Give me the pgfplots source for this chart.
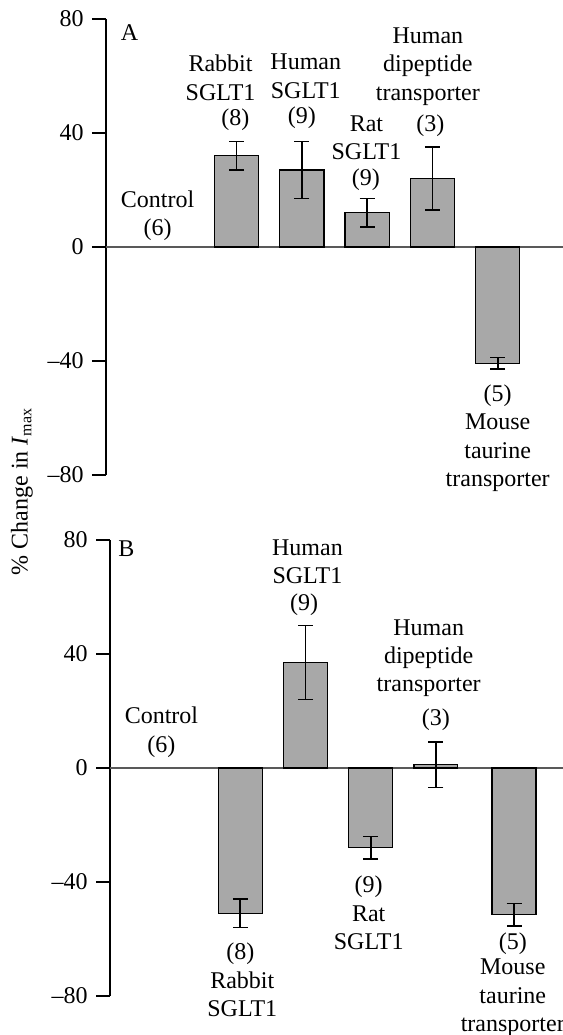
\documentclass[border=0pt]{standalone}
\usepackage{pgfplots}
\pgfplotsset{compat=1.18}
\usepackage{fontspec}
\setmainfont{Liberation Serif}
\definecolor{barfill}{RGB}{168,168,168}
\pgfplotsset{
  panel/.style={
    scale only axis, clip=false,
    width=228.5pt, height=228pt,
    xmin=-1, xmax=6, ymin=-80, ymax=80,
    axis x line=none, axis y line*=left,
    axis line style={line width=1pt,-},
    ytick={-80,-40,0,40,80},
    yticklabels={\textendash80,\textendash40,0,40,80},
    tick align=outside, major tick length=7pt,
    tick style={line width=1pt,black},
    ytick pos=left,
  },
  bars/.style={ybar, bar width=0.675, fill=barfill, draw=black, line width=0.65pt,
    error bars/.cd, y dir=both, y explicit,
    error bar style={line width=0.85pt,black},
    error mark options={rotate=90, mark size=3.75pt, line width=0.85pt, black}},
  zeroline/.style={black!65, line width=0.6pt, no marks, forget plot},
}
\begin{document}
\fontsize{12}{14.2}\selectfont
\begin{tikzpicture}
\useasboundingbox (0,0) rectangle (281.5pt,-517.5pt);
% Panel A
\begin{axis}[panel, at={(53pt,-237.5pt)}, anchor=south west]
\addplot[zeroline] coordinates {(-1,0) (6,0)};
\addplot[bars] table[x=x, y=y, y error=e] {
x y e
1 32 5
2 27 10
3 12 5
4 24 11
5 -40.8 2
};
\node at (axis cs:-0.64,75.3) {A};
\node[align=center] at (axis cs:-0.21,10.9) {Control\\(6)};
\node[align=center] at (axis cs:0.755,59.4) {Rabbit\\SGLT1};
\node at (axis cs:0.98,44.5) {(8)};
\node[align=center] at (axis cs:2.06,59.9) {Human\\SGLT1};
\node at (axis cs:2,45.2) {(9)};
\node[align=center] at (axis cs:2.99,38.4) {Rat\\SGLT1};
\node at (axis cs:2.98,23.5) {(9)};
\node[align=center] at (axis cs:3.93,63.4) {Human\\dipeptide\\transporter};
\node at (axis cs:3.97,42.7) {(3)};
\node at (axis cs:5,-52.3) {(5)};
\node[align=center] at (axis cs:5,-72.3) {Mouse\\taurine\\transporter};
\end{axis}
% Panel B
\begin{axis}[panel, width=228.1pt, at={(55pt,-498pt)}, anchor=south west]
\addplot[zeroline] coordinates {(-1,0) (6,0)};
\addplot[bars] table[x=x, y=y, y error=e] {
x y e
1 -51 5
2 37 13
3 -28 4
4 1.2 8
5.2 -51.5 4
};
\node at (axis cs:-0.75,77) {B};
\node[align=center] at (axis cs:-0.21,12.6) {Control\\(6)};
\node at (axis cs:1,-65) {(8)};
\node[align=center] at (axis cs:1.03,-79.4) {Rabbit\\SGLT1};
\node[align=center] at (axis cs:2.03,72.3) {Human\\SGLT1};
\node at (axis cs:1.98,57.3) {(9)};
\node at (axis cs:2.97,-41.7) {(9)};
\node[align=center] at (axis cs:2.97,-56.1) {Rat\\SGLT1};
\node[align=center] at (axis cs:3.89,38.5) {Human\\dipeptide\\transporter};
\node at (axis cs:4.0,17.1) {(3)};
\node at (axis cs:5.18,-61.8) {(5)};
\node[align=center] at (axis cs:5.18,-80.7) {Mouse\\taurine\\transporter};
\end{axis}
\node[rotate=90] at (11pt,-245.75pt) {\% Change in \textit{I}\textsubscript{max}};
\end{tikzpicture}
\end{document}
